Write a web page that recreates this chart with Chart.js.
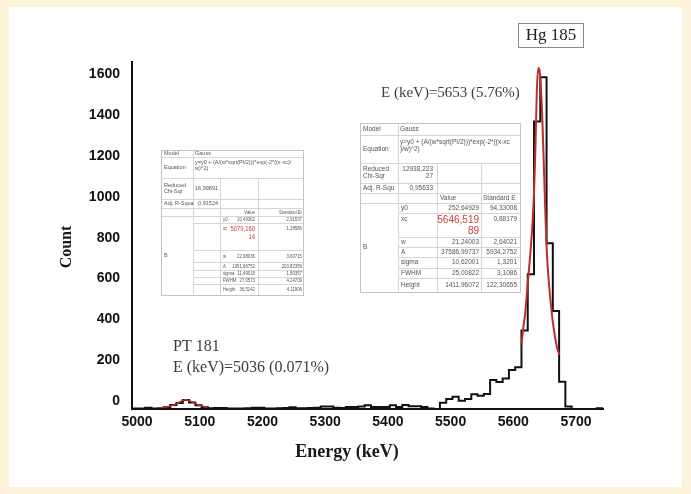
<!DOCTYPE html>
<html>
<head>
<meta charset="utf-8">
<script src="https://cdn.jsdelivr.net/npm/chart.js@4.4.1/dist/chart.umd.min.js"></script>
<style>
  html, body { margin: 0; padding: 0; background: #fcf3da; }
  #wrap { position: relative; width: 691px; height: 494px; }
</style>
</head>
<body>
<div id="wrap"><canvas id="spectrum" width="691" height="494"></canvas></div>
<script>
// histogram bins: left edge (keV) and counts, 10 keV bins
const binEdges = [4992, 5003, 5013, 5023, 5033, 5043, 5053, 5063, 5073, 5083,
  5093, 5103, 5113, 5123, 5133, 5143, 5153, 5163, 5173, 5183,
  5193, 5203, 5213, 5223, 5233, 5243, 5253, 5263, 5273, 5283,
  5293, 5303, 5313, 5323, 5333, 5343, 5353, 5363, 5373, 5383,
  5393, 5403, 5413, 5423, 5433, 5443, 5453, 5463, 5473, 5483,
  5493, 5503, 5513, 5523, 5533, 5543, 5553, 5563, 5573, 5583,
  5593, 5603, 5613, 5623, 5633, 5643, 5653, 5663, 5673, 5683,
  5693, 5733, 5743];
const binCounts = [3, 2, 6, 3, 4, 10, 20, 30, 44, 32,
  18, 8, 4, 5, 5, 3, 3, 3, 4, 6,
  6, 3, 3, 4, 5, 9, 4, 4, 5, 6,
  12, 12, 6, 5, 10, 10, 12, 18, 10, 10,
  10, 18, 10, 20, 14, 14, 10, 3, 0, 31,
  49, 60, 41, 49, 72, 65, 74, 142, 132, 149,
  191, 204, 384, 660, 1408, 1625, 812, 480, 134, 12,
  0, 4, 4];

// red Gauss fit curves
const hgFitEnergy = [5613, 5616, 5619, 5622, 5626, 5630, 5633, 5635, 5637.5, 5640,
  5642.7, 5646.4, 5649, 5652, 5654.4, 5658.7, 5664, 5669.4, 5673.5];
const hgFitCounts = [314, 400, 470, 580, 720, 880, 1060, 1250, 1560, 1670,
  1637, 1408, 1163, 880, 715, 550, 403, 305, 265];
const ptFitEnergy = [5041, 5050, 5060, 5068, 5077, 5086, 5095, 5104, 5112];
const ptFitCounts = [8, 12, 22, 34, 45, 37, 24, 13, 9];

const xTickValues = [5000, 5100, 5200, 5300, 5400, 5500, 5600, 5700];
const yTickValues = [0, 200, 400, 600, 800, 1000, 1200, 1400, 1600];

// fit report tables (Origin output)
const ptNoteLabels = ['Model', 'Equation', 'Reduced\nChi-Sqr', 'Adj. R-Squa'];
const ptNoteValues = ['Gauss', 'y=y0 + (A/(w*sqrt(PI/2)))*exp(-2*((x-xc)/\nw)^2)', '16,99891', '0,91524'];
const ptColHeads = ['Value', 'Standard Er'];
const ptParams = ['y0', 'xc', 'w', 'A', 'sigma', 'FWHM', 'Height'];
const ptValues = ['10,49362', '5079,160\n14', '22,98036', '1051,66752', '11,49018', '27,0573', '36,5142'];
const ptErrors = ['2,91537', '1,28586', '3,60715', '203,82359', '1,80357', '4,24709', '4,11906'];

const hgNoteLabels = ['Model', 'Equation', 'Reduced\nChi-Sqr', 'Adj. R-Squ'];
const hgNoteValues = ['Gauss', 'y=y0 + (A/(w*sqrt(PI/2)))*exp(-2*((x-xc\n)/w)^2)', '12938,223\n27', '0,95633'];
const hgColHeads = ['Value', 'Standard E'];
const hgParams = ['y0', 'xc', 'w', 'A', 'sigma', 'FWHM', 'Height'];
const hgValues = ['252,64929', '5646,519\n89', '21,24003', '37586,99737', '10,62001', '25,00822', '1411,96072'];
const hgErrors = ['94,33008', '0,88179', '2,64021', '5934,2752', '1,3201', '3,1086', '122,30655'];

const SANS = '"Liberation Sans", Arial, sans-serif';
const SERIF = '"Liberation Serif", "Times New Roman", serif';

const ptLayout = {
  left: 161, right: 303, labelEnd: 193, noteEnd: 220, paramX: 223,
  valueRight: 255, errRight: 302, vlines: [220, 258],
  rows: [150, 157, 178, 199, 208, 216, 223, 250, 262, 270, 277, 284, 295],
  font: 5.5, redFont: 7.5, sx: 0.78, headAlign: 'right', headX: [255, 302]
};
const hgLayout = {
  left: 360, right: 520, labelEnd: 398, noteEnd: 435, paramX: 401,
  valueRight: 479, errRight: 517, vlines: [437, 481],
  rows: [123, 135, 163, 183, 193, 203, 213, 237, 247, 257, 268, 278, 292],
  font: 6.5, redFont: 10, sx: 1, headAlign: 'left', headX: [440, 483]
};

// text squeezed horizontally by sx, anchored at x
function squeezedText(ctx, s, x, y, sx) {
  ctx.save();
  ctx.translate(x, y);
  ctx.scale(sx, 1);
  ctx.fillText(s, 0, 0);
  ctx.restore();
}

function drawLines(ctx, text, x, yc, lh, align) {
  const lines = text.split('\n');
  ctx.textAlign = align;
  lines.forEach((s, k) => ctx.fillText(s, x, yc + (k - (lines.length - 1) / 2) * lh));
}

function drawFitTable(ctx, labels, notes, heads, params, values, errors, lay) {
  const r = lay.rows;
  const top = r[0], bottom = r[r.length - 1];
  const lh = lay.font * 1.1;
  ctx.save();
  ctx.fillStyle = '#fff';
  ctx.fillRect(lay.left, top, lay.right - lay.left, bottom - top);
  ctx.strokeStyle = '#d6d6d6';
  ctx.lineWidth = 1;
  ctx.beginPath();
  for (let i = 1; i < r.length - 1; i++) {
    const xs = (i >= 6 && i <= 11) ? lay.labelEnd : lay.left;
    ctx.moveTo(xs, r[i] + 0.5);
    ctx.lineTo(lay.right, r[i] + 0.5);
  }
  ctx.moveTo(lay.labelEnd + 0.5, top);
  ctx.lineTo(lay.labelEnd + 0.5, bottom);
  lay.vlines.forEach(vx => { ctx.moveTo(vx + 0.5, r[2]); ctx.lineTo(vx + 0.5, bottom); });
  ctx.stroke();
  ctx.strokeStyle = '#c4c4c4';
  ctx.strokeRect(lay.left + 0.5, top + 0.5, lay.right - lay.left, bottom - top);

  ctx.fillStyle = '#555';
  ctx.textBaseline = 'middle';
  ctx.font = lay.font + 'px ' + SANS;
  // note rows
  labels.forEach((s, i) => {
    const yc = (r[i] + r[i + 1]) / 2;
    drawLines(ctx, s, lay.left + 3, yc, lh, 'left');
    if (i === 1) {
      notes[i].split('\n').forEach((line, k) => {
        ctx.textAlign = 'left';
        ctx.fillText(line, lay.labelEnd + 2, r[i] + lh * 0.95 + k * lh);
      });
    } else if (i === 0) {
      drawLines(ctx, notes[i], lay.labelEnd + 2, yc, lh, 'left');
    } else {
      drawLines(ctx, notes[i], lay.noteEnd - 2, yc, lh, 'right');
    }
  });
  // column heads
  const hy = (r[4] + r[5]) / 2;
  ctx.textAlign = lay.headAlign;
  squeezedText(ctx, heads[0], lay.headX[0], hy, lay.sx);
  ctx.save();
  ctx.beginPath();
  ctx.rect(lay.vlines[1], r[4], lay.right - lay.vlines[1] - 1, r[5] - r[4]);
  ctx.clip();
  squeezedText(ctx, heads[1], lay.headX[1], hy, lay.sx);
  ctx.restore();
  // B label spanning the parameter rows
  ctx.textAlign = 'left';
  ctx.fillText('B', lay.left + 3, (r[5] + r[12]) / 2);
  params.forEach((p, k) => {
    const i = k + 5;
    const isXc = p === 'xc';
    const yc = isXc ? r[i] + lh * 0.9 : (r[i] + r[i + 1]) / 2;
    ctx.fillStyle = '#555';
    ctx.font = lay.font + 'px ' + SANS;
    ctx.textAlign = 'left';
    squeezedText(ctx, p, lay.paramX, yc, lay.sx);
    ctx.textAlign = 'right';
    squeezedText(ctx, errors[k], lay.errRight, yc, lay.sx);
    if (isXc) {
      ctx.fillStyle = '#c8403c';
      ctx.font = lay.redFont + 'px ' + SANS;
      values[k].split('\n').forEach((line, j) => {
        squeezedText(ctx, line, lay.valueRight, r[i] + lay.redFont * 0.75 + j * lay.redFont * 1.05, lay.sx);
      });
    } else {
      squeezedText(ctx, values[k], lay.valueRight, yc, lay.sx);
    }
  });
  ctx.restore();
}

const paperPlugin = {
  id: 'paper',
  beforeDraw(chart) {
    const ctx = chart.ctx;
    ctx.save();
    ctx.fillStyle = '#fcf3da';
    ctx.fillRect(0, 0, chart.width, chart.height);
    ctx.fillStyle = '#fff';
    ctx.fillRect(9, 7, 673, 480);
    ctx.restore();
  }
};

const annotationPlugin = {
  id: 'annotations',
  afterDraw(chart) {
    const ctx = chart.ctx;
    drawFitTable(ctx, ptNoteLabels, ptNoteValues, ptColHeads, ptParams, ptValues, ptErrors, ptLayout);
    drawFitTable(ctx, hgNoteLabels, hgNoteValues, hgColHeads, hgParams, hgValues, hgErrors, hgLayout);

    ctx.save();
    ctx.fillStyle = '#1a1a1a';
    ctx.textBaseline = 'middle';
    // axis titles
    ctx.font = 'bold 18px ' + SERIF;
    ctx.textAlign = 'center';
    ctx.fillText('Energy (keV)', 347, 452);
    ctx.save();
    ctx.translate(67, 247);
    ctx.rotate(-Math.PI / 2);
    ctx.font = 'bold 16px ' + SERIF;
    ctx.fillText('Count', 0, 0);
    ctx.restore();

    // peak labels
    ctx.fillStyle = '#3c3c3c';
    ctx.font = '15px ' + SERIF;
    ctx.textAlign = 'left';
    ctx.fillText('E (keV)=5653 (5.76%)', 381, 93);
    ctx.font = '16px ' + SERIF;
    ctx.fillText('PT 181', 173, 347);
    ctx.fillText('E (keV)=5036 (0.071%)', 173, 368);

    ctx.strokeStyle = '#8a8a8a';
    ctx.lineWidth = 1;
    ctx.strokeRect(518.5, 23.5, 65, 24);
    ctx.fillStyle = '#222';
    ctx.font = '17px ' + SERIF;
    ctx.textAlign = 'center';
    ctx.fillText('Hg 185', 551, 36);
    ctx.restore();
  }
};

const histPoints = binEdges.map((x, i) => ({ x: x, y: binCounts[i] }));
const hgFitPoints = hgFitEnergy.map((x, i) => ({ x: x, y: hgFitCounts[i] }));
const ptFitPoints = ptFitEnergy.map((x, i) => ({ x: x, y: ptFitCounts[i] }));

new Chart(document.getElementById('spectrum'), {
  type: 'line',
  data: {
    datasets: [
      {
        label: 'Gauss fit Hg 185',
        data: hgFitPoints,
        borderColor: '#b8302d',
        borderWidth: 2,
        cubicInterpolationMode: 'monotone',
        pointRadius: 0
      },
      {
        label: 'Gauss fit Pt 181',
        data: ptFitPoints,
        borderColor: '#b8302d',
        borderWidth: 1.5,
        cubicInterpolationMode: 'monotone',
        pointRadius: 0
      },
      {
        label: 'Counts',
        data: histPoints,
        stepped: true,
        borderColor: '#111',
        borderWidth: 2,
        pointRadius: 0
      }
    ]
  },
  options: {
    responsive: false,
    animation: false,
    layout: { padding: { top: 62, right: 88, left: 0, bottom: 0 } },
    plugins: {
      legend: { display: false },
      tooltip: { enabled: false }
    },
    scales: {
      x: {
        type: 'linear',
        min: 4992,
        max: 5743,
        grid: { display: false, drawTicks: false },
        border: { color: '#111', width: 2 },
        afterBuildTicks: scale => { scale.ticks = xTickValues.map(v => ({ value: v })); },
        afterFit: scale => { scale.height = 85; },
        ticks: {
          color: '#111',
          padding: 5,
          maxRotation: 0,
          callback: v => String(v),
          font: { family: SANS, size: 14, weight: 'bold' }
        }
      },
      y: {
        min: 0,
        max: 1700,
        grid: { display: false, drawTicks: false },
        border: { color: '#111', width: 2 },
        afterBuildTicks: scale => { scale.ticks = yTickValues.map(v => ({ value: v })); },
        afterFit: scale => { scale.width = 132; },
        ticks: {
          color: '#111',
          padding: 12,
          labelOffset: -8,
          callback: v => String(v),
          font: { family: SANS, size: 14, weight: 'bold' }
        }
      }
    }
  },
  plugins: [paperPlugin, annotationPlugin]
});
</script>
</body>
</html>
